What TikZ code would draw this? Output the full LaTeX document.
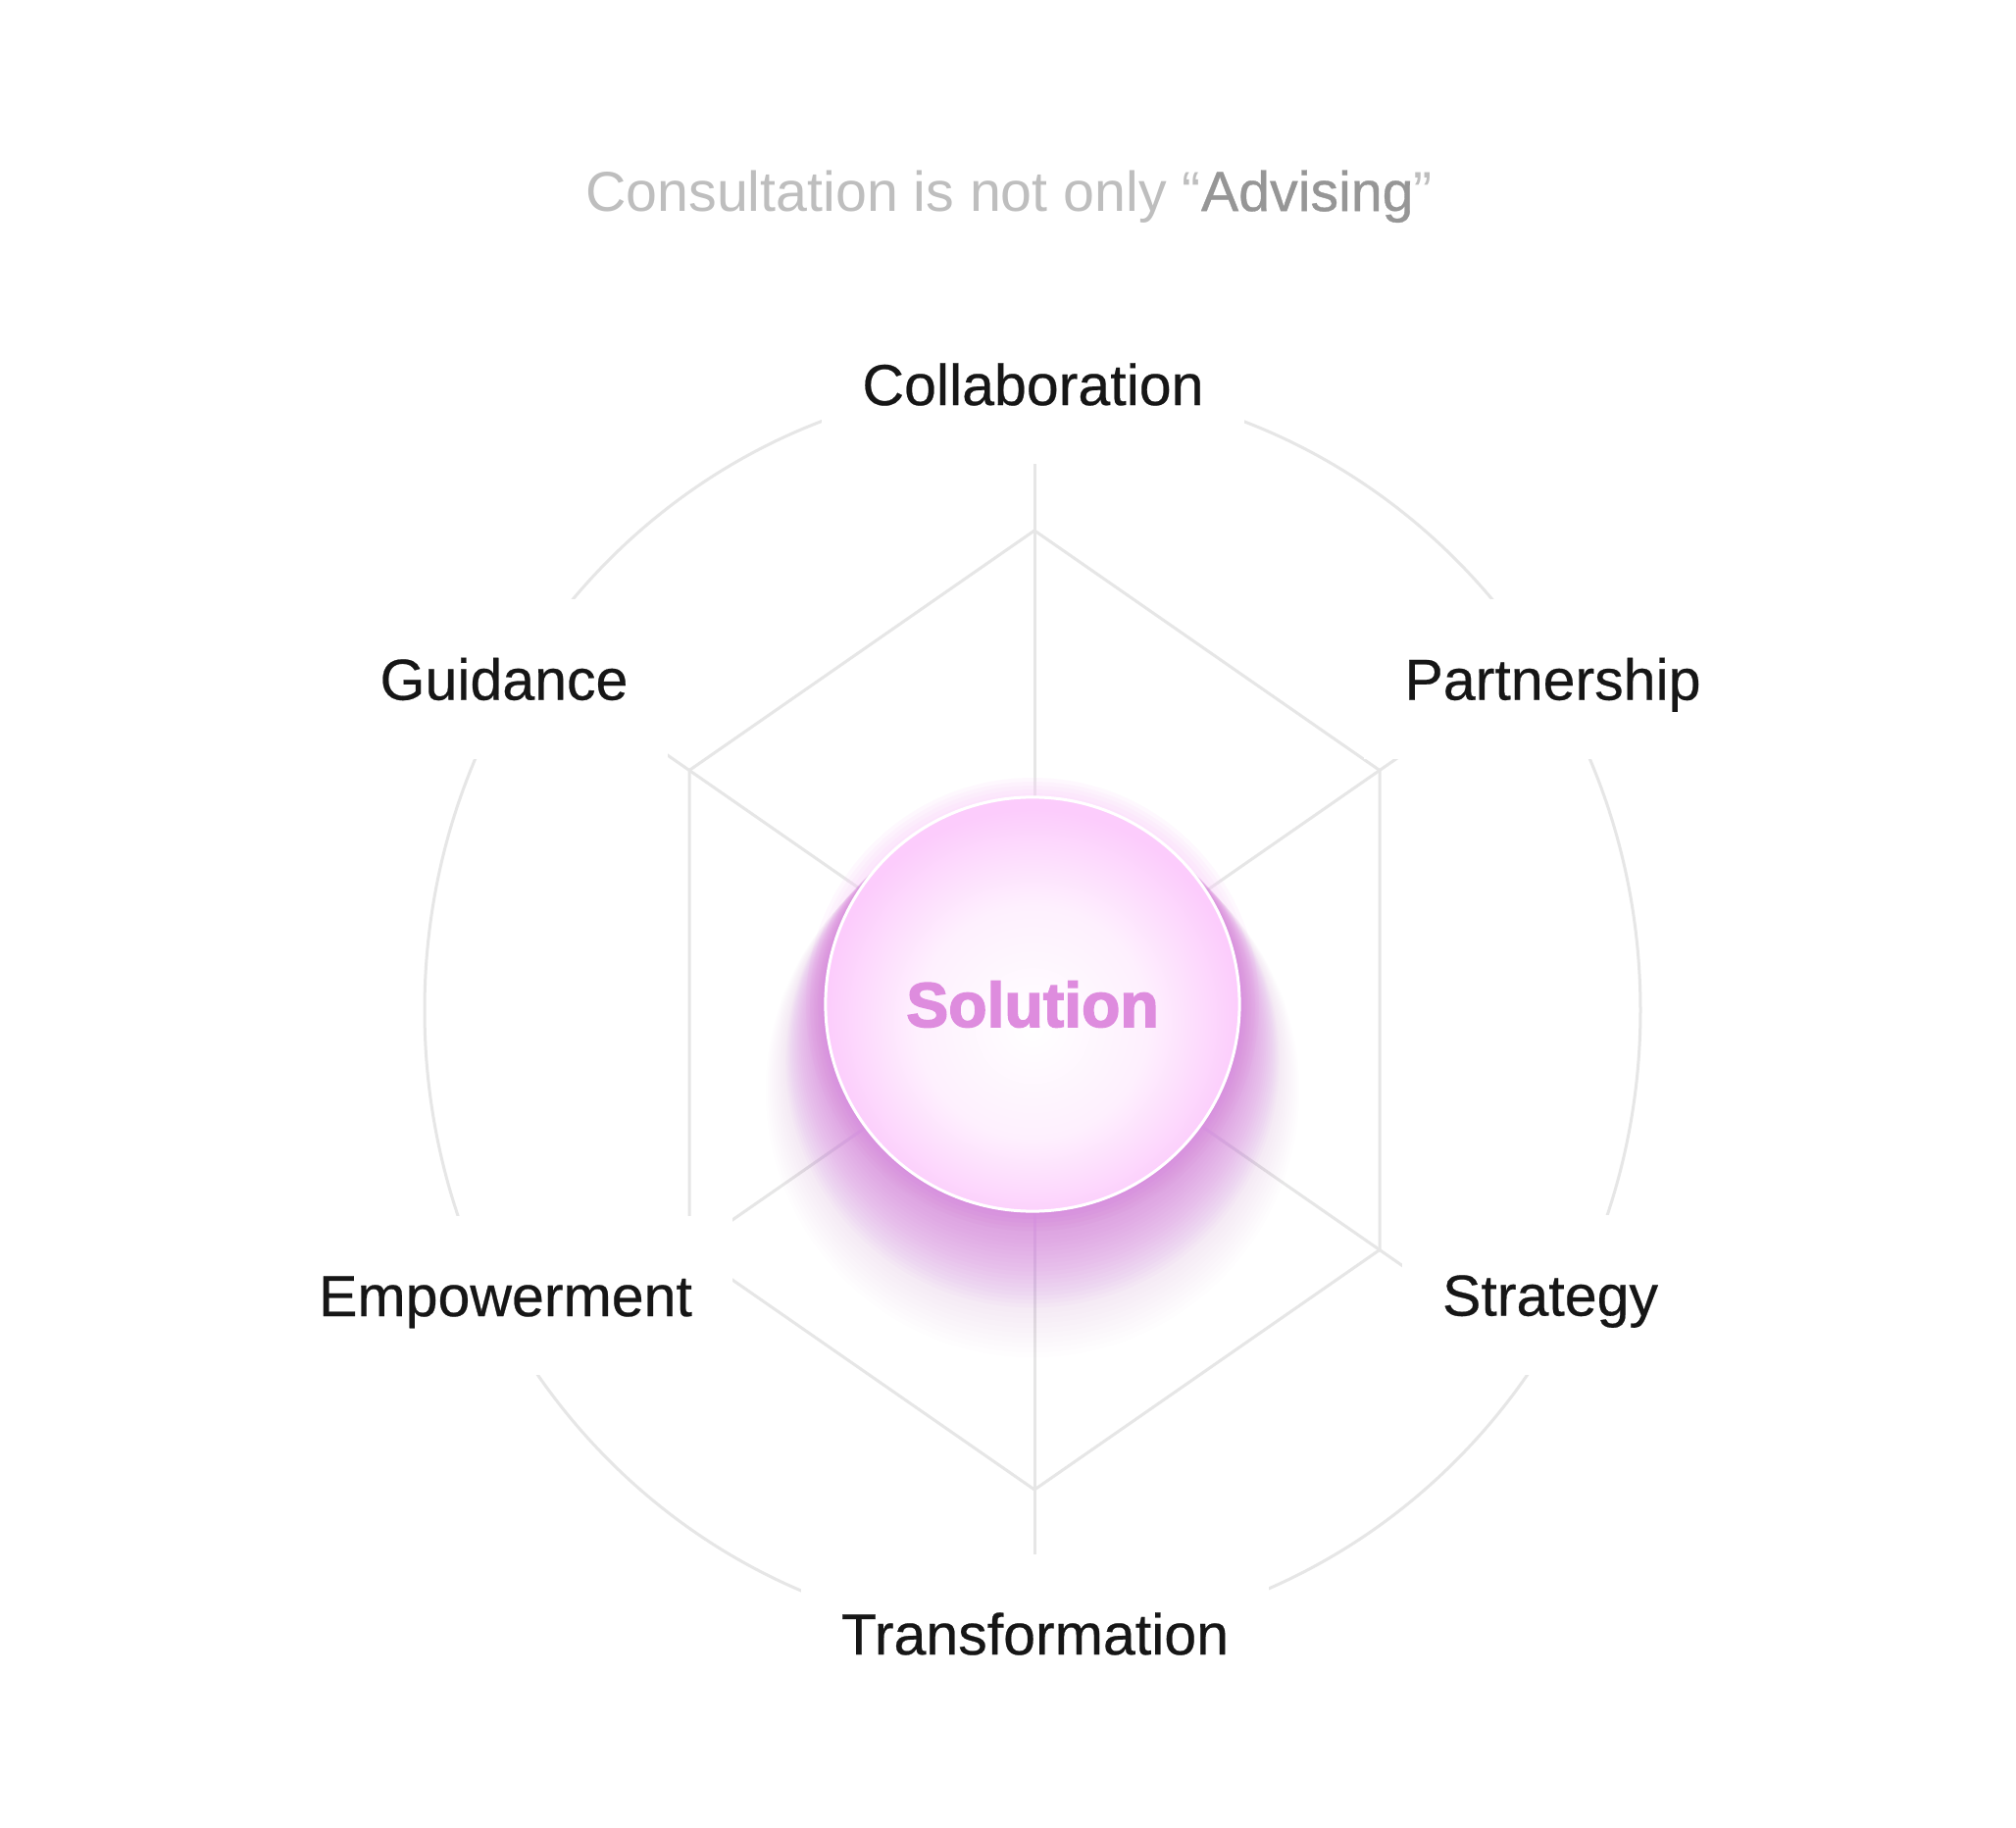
\documentclass[tikz,border=0pt]{standalone}
\usepackage{fontspec}
\setmainfont{Liberation Sans}
\newfontfamily\tagfont{Liberation Sans}[FakeBold=0.4]
\newfontfamily\medfont{Liberation Sans}[FakeBold=0.6]
\newfontfamily\heavyfont{Liberation Sans}[UprightFont={* Bold},FakeBold=2.4]
\usetikzlibrary{calc}
\definecolor{webgray}{RGB}{230,230,230}
\definecolor{labelink}{RGB}{22,22,22}
\definecolor{titlegray}{RGB}{190,190,190}
\definecolor{advgray}{RGB}{150,150,150}
\definecolor{solpink}{RGB}{222,140,222}
\definecolor{bubbleedge}{RGB}{252,204,252}
\definecolor{bubblein}{RGB}{254,240,254}
\definecolor{glowpurple}{RGB}{214,124,222}
\pgfdeclareradialshading{bubble}{\pgfpoint{0bp}{-3bp}}{color(0bp)=(white); color(14bp)=(bubblein); color(25bp)=(bubbleedge); color(50bp)=(bubbleedge)}
\begin{document}
\begin{tikzpicture}
    [
    x=0.01cm,y=-0.01cm,
    web/.style={draw=webgray,line width=0.03cm},
    facet/.style={fill=white,text=labelink,inner xsep=0.41cm,inner ysep=0.6cm,text height=12pt,text depth=0pt,font=\tagfont\fontsize{16.8}{20}\selectfont},
    core/.style={circle,shade,shading=bubble,draw=white,line width=0.03cm,minimum size=4.22cm,inner sep=0pt},
    ]
    \useasboundingbox (0,0) rectangle (2056,1864);
    \fill [white] (0,0) rectangle (2056,1864);
    \node (title) at (1029,194) [text height=12pt,text depth=0pt,inner sep=0pt,text=titlegray,font=\fontsize{16.3}{20}\selectfont] {Consultation is not only “{\medfont\color{advgray}Advising}”};
    \coordinate (hub) at (1055,1030);
    \coordinate (n) at (1055,541);
    \coordinate (ne) at (1407,785.5);
    \coordinate (se) at (1407,1274.5);
    \coordinate (s) at (1055,1519);
    \coordinate (sw) at (703,1274.5);
    \coordinate (nw) at (703,785.5);
    % ring and web
    \draw [web] (1053,1030) ellipse [x radius=620,y radius=640];
    \draw [web] (n) -- (ne) -- (se) -- (s) -- (sw) -- (nw) -- cycle;
    \foreach \v in {n,ne,se,s,sw,nw}
      \draw [web] (hub) -- ($(hub)!1.25!(\v)$);
    % labels (white boxes cut the lines)
    \node (collab) at (1053.5,392) [facet] {Collaboration};
    \node (partner) at (1583.5,692.5) [facet] {Partnership};
    \node (strategy) at (1581,1320.5) [facet] {Strategy};
    \node (transform) at (1055.5,1666) [facet] {Transformation};
    \node (empower) at (515.5,1321) [facet] {Empowerment};
    \node (guide) at (514,692.5) [facet] {Guidance};
    % glow
    \foreach \i in {1,...,5}
      \fill [bubbleedge,opacity=0.12] (1053,1024) circle [radius={211+4*\i}];
    \foreach \i in {1,...,10}
      \fill [glowpurple,opacity=0.012] (1053,1082+3*\i) circle [radius={252+2*\i}];
    \foreach \i in {1,...,24}
      \fill [glowpurple,opacity=0.042] (1053,1024+2.4*\i) circle [radius={211+1.7*\i}];
    \node (sol) at (1053,1024) [core,text=solpink,font=\heavyfont\fontsize{18.3}{22}\selectfont,text height=13.1pt,text depth=0pt] {Solution};
  \end{tikzpicture}
\end{document}
